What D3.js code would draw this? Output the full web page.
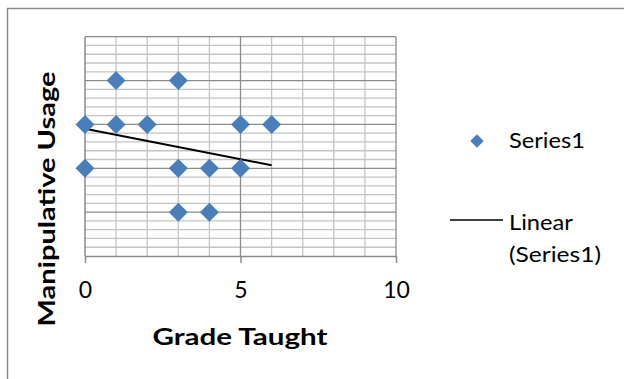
<!DOCTYPE html>
<html><head><meta charset="utf-8">
<script src="https://cdn.jsdelivr.net/npm/d3@7"></script>
<style>html,body{margin:0;padding:0;background:#fff;}svg{display:block;}</style>
</head><body>
<svg id="c" width="624" height="379"></svg>
<script>
// Data
const gradeTaught = [1, 3, 0, 1, 2, 5, 6, 0, 3, 4, 5, 3, 4];
const usage       = [4, 4, 3, 3, 3, 3, 3, 2, 2, 2, 2, 1, 1];
const xTicks = [0, 5, 10];
const trendX = [0, 6];
const trendY = [2.9, 2.07];
const seriesName = "Series1";
const trendName = ["Linear", "(Series1)"];

const svg = d3.select("#c");
const font = "Lato, 'Open Sans', sans-serif";

// outer chart border (cropped at right/bottom)
svg.append("path").attr("d", "M7.5,400 V8.5 H640")
  .attr("fill", "none").attr("stroke", "#8a8a8a").attr("stroke-width", 1.5);

const x = d3.scaleLinear().domain([0, 10]).range([85, 396]);
const y = d3.scaleLinear().domain([0, 5]).range([256, 36.7]);

const g = svg.append("g");
// minor horizontal gridlines
g.selectAll(".hmin").data(d3.range(0, 5.001, 0.2).filter(v => Math.abs(v - Math.round(v)) > 1e-6))
  .join("line").attr("x1", x(0)).attr("x2", x(10))
  .attr("y1", d => y(d)).attr("y2", d => y(d))
  .attr("stroke", "#c4c4c4").attr("stroke-width", 1.3);
// minor vertical gridlines
g.selectAll(".vmin").data(d3.range(1, 10).filter(v => v % 5 !== 0))
  .join("line").attr("y1", y(0)).attr("y2", y(5))
  .attr("x1", d => x(d)).attr("x2", d => x(d))
  .attr("stroke", "#c4c4c4").attr("stroke-width", 1.3);
// major horizontal gridlines
g.selectAll(".hmaj").data(d3.range(1, 6))
  .join("line").attr("x1", x(0)).attr("x2", x(10))
  .attr("y1", d => y(d)).attr("y2", d => y(d))
  .attr("stroke", "#8c8c8c").attr("stroke-width", 1.3);
// major vertical gridline
g.selectAll(".vmaj").data([5, 10])
  .join("line").attr("y1", y(0)).attr("y2", y(5))
  .attr("x1", d => x(d)).attr("x2", d => x(d))
  .attr("stroke", "#8c8c8c").attr("stroke-width", 1.3);

// x axis
const xAxis = d3.axisBottom(x).tickValues(xTicks).tickSize(7).tickSizeOuter(0);
const ax = svg.append("g").attr("transform", `translate(0,${y(0)})`).call(xAxis);
ax.select(".domain").attr("stroke", "#8a8a8a").attr("stroke-width", 1.5);
ax.selectAll(".tick line").attr("stroke", "#8a8a8a").attr("stroke-width", 1.5);
ax.selectAll(".tick text").attr("font-family", font).attr("font-size", 23).attr("fill", "#000")
  .attr("y", 42).attr("dy", 0);

// y axis line
svg.append("line").attr("x1", x(0)).attr("x2", x(0)).attr("y1", y(0)).attr("y2", y(5))
  .attr("stroke", "#8a8a8a").attr("stroke-width", 1.5);

// trendline
svg.append("line").attr("x1", x(trendX[0])).attr("y1", y(trendY[0]))
  .attr("x2", x(trendX[1])).attr("y2", y(trendY[1]))
  .attr("stroke", "#000").attr("stroke-width", 2);

// points
const diamond = d3.symbol().type(d3.symbolSquare).size(180);
svg.selectAll(".pt").data(gradeTaught.map((d, i) => [d, usage[i]]))
  .join("path").attr("d", diamond)
  .attr("transform", d => `translate(${x(d[0])},${y(d[1])}) rotate(45)`)
  .attr("fill", "#4a7ebb");

// axis titles
svg.append("text").attr("x", 240).attr("y", 345).attr("text-anchor", "middle")
  .attr("font-family", font).attr("font-weight", "bold").attr("font-size", 23)
  .attr("textLength", 175).attr("lengthAdjust", "spacingAndGlyphs")
  .text("Grade Taught");
svg.append("text").attr("transform", "translate(55,199) rotate(-90)").attr("text-anchor", "middle")
  .attr("font-family", font).attr("font-weight", "bold").attr("font-size", 23)
  .attr("textLength", 255).attr("lengthAdjust", "spacingAndGlyphs")
  .text("Manipulative Usage");

// legend
const lg = svg.append("g");
lg.append("path").attr("d", d3.symbol().type(d3.symbolSquare).size(90))
  .attr("transform", "translate(477,141) rotate(45)").attr("fill", "#4a7ebb");
lg.append("text").attr("x", 509).attr("y", 148).attr("font-family", font).attr("font-size", 21)
  .attr("textLength", 76).attr("lengthAdjust", "spacingAndGlyphs").text(seriesName);
lg.append("line").attr("x1", 450).attr("x2", 503).attr("y1", 220).attr("y2", 220)
  .attr("stroke", "#000").attr("stroke-width", 1.5);
lg.append("text").attr("x", 509).attr("y", 230).attr("font-family", font).attr("font-size", 21)
  .attr("textLength", 64).attr("lengthAdjust", "spacingAndGlyphs").text(trendName[0]);
lg.append("text").attr("x", 509).attr("y", 262).attr("font-family", font).attr("font-size", 21)
  .attr("textLength", 92).attr("lengthAdjust", "spacingAndGlyphs").text(trendName[1]);
</script>
</body></html>
